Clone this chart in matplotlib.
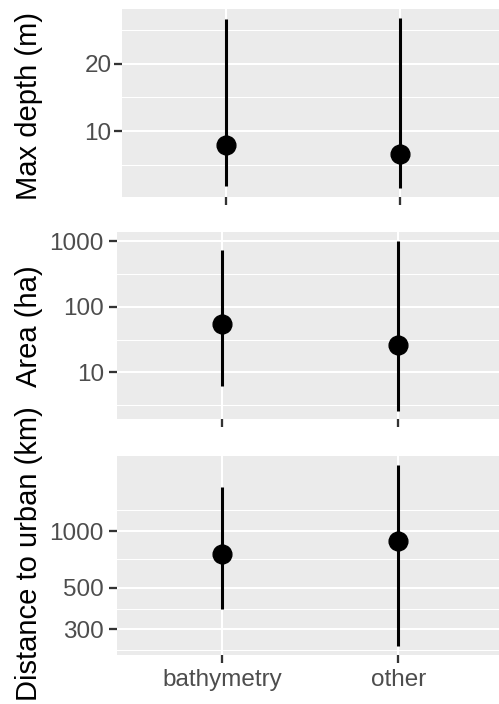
import numpy as np
import matplotlib
matplotlib.use("Agg")
import matplotlib.pyplot as plt
from matplotlib.ticker import FixedLocator, NullFormatter

plt.rcParams['font.family'] = ['Liberation Sans', 'DejaVu Sans']

groups = ["bathymetry", "other"]

# median with full range for each group
depth_mid = [7.9, 6.6]
depth_lo = [1.8, 1.5]
depth_hi = [26.7, 26.9]

area_mid = [55, 26]
area_lo = [6.3, 2.6]
area_hi = [730, 1010]

dist_mid = [760, 885]
dist_lo = [385, 245]
dist_hi = [1710, 2245]

depth_breaks = [10, 20]
area_breaks = [10, 100, 1000]
dist_breaks = [300, 500, 1000]

W, H = 499, 704
BG = "#EBEBEB"
TICK_COL = "#333333"
LAB_COL = "#4D4D4D"


def minor_breaks(breaks, log=False):
    """Midpoints between major breaks, ggplot style (ends padded by the first step)."""
    b = np.log10(breaks) if log else np.asarray(breaks, float)
    step = b[1] - b[0]
    b = np.concatenate([[b[0] - step], b, [b[-1] + step]])
    mids = (b[:-1] + b[1:]) / 2
    return 10 ** mids if log else mids


def expanded(lo, hi, log=False, mult=0.05):
    """Data range widened by 5% on each side (in log space for log axes)."""
    a, b = min(lo), max(hi)
    if log:
        a, b = np.log10(a), np.log10(b)
    d = (b - a) * mult
    a, b = a - d, b + d
    return (10 ** a, 10 ** b) if log else (a, b)


def panel(rect, mid, lo, hi, breaks, label, label_y, log=False, show_x=False, ypad=3.5):
    left, top, right, bottom = rect
    ax = fig.add_axes([left / W, 1 - bottom / H, (right - left) / W, (bottom - top) / H])
    ax.set_facecolor(BG)
    if log:
        ax.set_yscale("log")
    x = np.arange(len(groups))
    ax.vlines(x, lo, hi, color="black", lw=2.2, zorder=3)
    ax.plot(x, mid, "o", color="black", ms=13.5, zorder=4)
    ax.set_xlim(-0.6, len(groups) - 0.4)

    ax.set_yticks(breaks, labels=[str(b) for b in breaks])
    ax.yaxis.set_minor_locator(FixedLocator(minor_breaks(breaks, log)))
    ax.yaxis.set_minor_formatter(NullFormatter())
    ax.set_ylim(*expanded(lo, hi, log))
    ax.set_xticks(x)
    ax.xaxis.set_minor_locator(FixedLocator([]))
    if show_x:
        ax.set_xticklabels(groups)
    else:
        ax.tick_params(axis="x", labelbottom=False)

    ax.grid(which="major", color="white", lw=1.5)
    ax.grid(which="minor", axis="y", color="white", lw=0.75)
    ax.set_axisbelow(True)
    ax.tick_params(which="major", length=5.8, width=1.65, color=TICK_COL,
                   labelcolor=LAB_COL, labelsize=17.5)
    ax.tick_params(axis="y", pad=ypad)
    ax.tick_params(axis="x", pad=4.5)
    ax.tick_params(which="minor", length=0)
    for s in ax.spines.values():
        s.set_visible(False)

    fig.text(29 / W, 1 - label_y / H, label, rotation=90, ha="center",
             va="center", fontsize=21, color="black")
    return ax


fig = plt.figure(figsize=(W / 100, H / 100), dpi=100)

panel((121.6, 9, 504, 196.7), depth_mid, depth_lo, depth_hi, depth_breaks,
      "Max depth (m)", 106.5, ypad=1.5)
panel((116.7, 232.3, 504, 419.3), area_mid, area_lo, area_hi, area_breaks,
      "Area (ha)", 326.5, log=True)
panel((116.7, 456, 504, 655), dist_mid, dist_lo, dist_hi, dist_breaks,
      "Distance to urban (km)", 554, log=True, show_x=True)

fig.savefig("out.png", dpi=100)
